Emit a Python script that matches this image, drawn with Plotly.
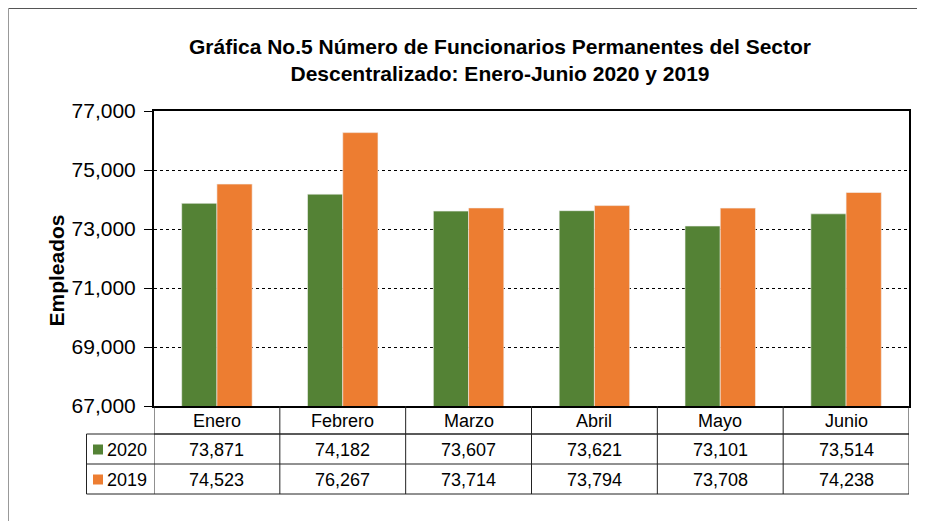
import plotly.graph_objects as go

months = ["Enero", "Febrero", "Marzo", "Abril", "Mayo", "Junio"]
series_names = ["2020", "2019"]
values_2020 = [73871, 74182, 73607, 73621, 73101, 73514]
values_2019 = [74523, 76267, 73714, 73794, 73708, 74238]
colors = ["#548235", "#ED7D31"]
y_ticks = [67000, 69000, 71000, 73000, 75000, 77000]

# the page body adds an 8px margin; work in screen pixels and subtract it
OX, OY = 8, 8
W, H = 925 - OX, 521 - OY
SL, SR, ST, SB = 154, 909, 111, 406          # plot area in screen px
L, T = SL - OX, ST - OY
R = W - (SR - OX)
B = H - (SB - OY)
PW, PH = W - L - R, H - T - B


def px_x(px):
    return (px - OX - L) / PW


def px_y(py):
    return (SB - py) / PH


FONT = "Liberation Sans, Arial, sans-serif"

fig = go.Figure()
for name, vals, col in zip(series_names, [values_2020, values_2019], colors):
    fig.add_trace(go.Bar(
        x=months, y=vals, name=name, marker=dict(color=col, line=dict(width=0.6, color="#f2f2f2")),
        showlegend=False,
    ))

shapes = []
annotations = []
line_col = "#222222"

shapes.append(dict(type="line", xref="paper", yref="paper", x0=0, x1=1, y0=px_y(434), y1=px_y(434),
                   line=dict(color=line_col, width=1)))
for py in [434, 464, 494]:
    shapes.append(dict(type="line", xref="paper", yref="paper", x0=px_x(86.5), x1=1,
                       y0=px_y(py), y1=px_y(py), line=dict(color=line_col, width=1)))
shapes.append(dict(type="line", xref="paper", yref="paper", x0=px_x(86.5), x1=px_x(86.5),
                   y0=px_y(434), y1=px_y(494), line=dict(color=line_col, width=1)))
for i in range(len(months) + 1):
    xb = i - 0.5
    shapes.append(dict(type="line", xref="x", yref="paper", x0=xb, x1=xb,
                       y0=px_y(406), y1=px_y(494), line=dict(color=line_col, width=1)))

for m in months:
    annotations.append(dict(x=m, xref="x", y=px_y(420.5), yref="paper", text=m, showarrow=False,
                            font=dict(family=FONT, size=18, color="#000"), yanchor="middle"))
for vals, py in zip([values_2020, values_2019], [449.5, 479.5]):
    for m, v in zip(months, vals):
        annotations.append(dict(x=m, xref="x", y=px_y(py), yref="paper", text=f"{v:,}", showarrow=False,
                                font=dict(family=FONT, size=18, color="#000"), yanchor="middle"))
for name, col, py in zip(series_names, colors, [449.5, 479.5]):
    shapes.append(dict(type="rect", xref="paper", yref="paper", x0=px_x(93), x1=px_x(103),
                       y0=px_y(py - 5), y1=px_y(py + 5), line=dict(width=0), fillcolor=col))
    annotations.append(dict(x=px_x(105), xref="paper", y=px_y(py), yref="paper", text=name,
                            showarrow=False, xanchor="left", yanchor="middle",
                            font=dict(family=FONT, size=18, color="#000")))

# outer chart frame (top and left)
shapes.append(dict(type="line", xref="paper", yref="paper", x0=px_x(8.5), x1=px_x(925), y0=px_y(8.5), y1=px_y(8.5),
                   line=dict(color="#555555", width=1)))
shapes.append(dict(type="line", xref="paper", yref="paper", x0=px_x(8.5), x1=px_x(8.5), y0=px_y(8.5), y1=px_y(521),
                   line=dict(color="#999999", width=1)))

annotations.append(dict(x=px_x(42), xref="paper", y=px_y(270), yref="paper", text="<b>Empleados</b>",
                        textangle=-90, showarrow=False, font=dict(family=FONT, size=21, color="#000")))

fig.update_layout(
    width=W, height=H,
    margin=dict(l=L, r=R, t=T, b=B, autoexpand=False),
    paper_bgcolor="white", plot_bgcolor="white",
    barmode="group", bargap=0.44, bargroupgap=0,
    title=dict(text="<b>Gráfica No.5 Número de Funcionarios Permanentes del Sector<br>Descentralizado: Enero-Junio 2020 y 2019</b>",
               x=(500 - OX) / W, xref="container", xanchor="center",
               y=1 - (54 - OY) / H, yref="container", yanchor="middle",
               font=dict(family=FONT, size=21, color="#000")),
    xaxis=dict(showticklabels=False, ticks="", showgrid=False, showline=True, linecolor="#000",
               linewidth=2, mirror=True, range=[-0.5, 5.5]),
    yaxis=dict(range=[67000, 77000], tickvals=y_ticks, tickformat=",", ticks="outside", ticklen=8,
               tickcolor="#000", showline=True, linecolor="#000", linewidth=2, mirror=True,
               showgrid=True, gridcolor="#000", griddash="dot", gridwidth=1, zeroline=False,
               ticklabelstandoff=4,
               tickfont=dict(family=FONT, size=21, color="#000")),
    shapes=shapes, annotations=annotations,
)

fig.write_html("out.html")
